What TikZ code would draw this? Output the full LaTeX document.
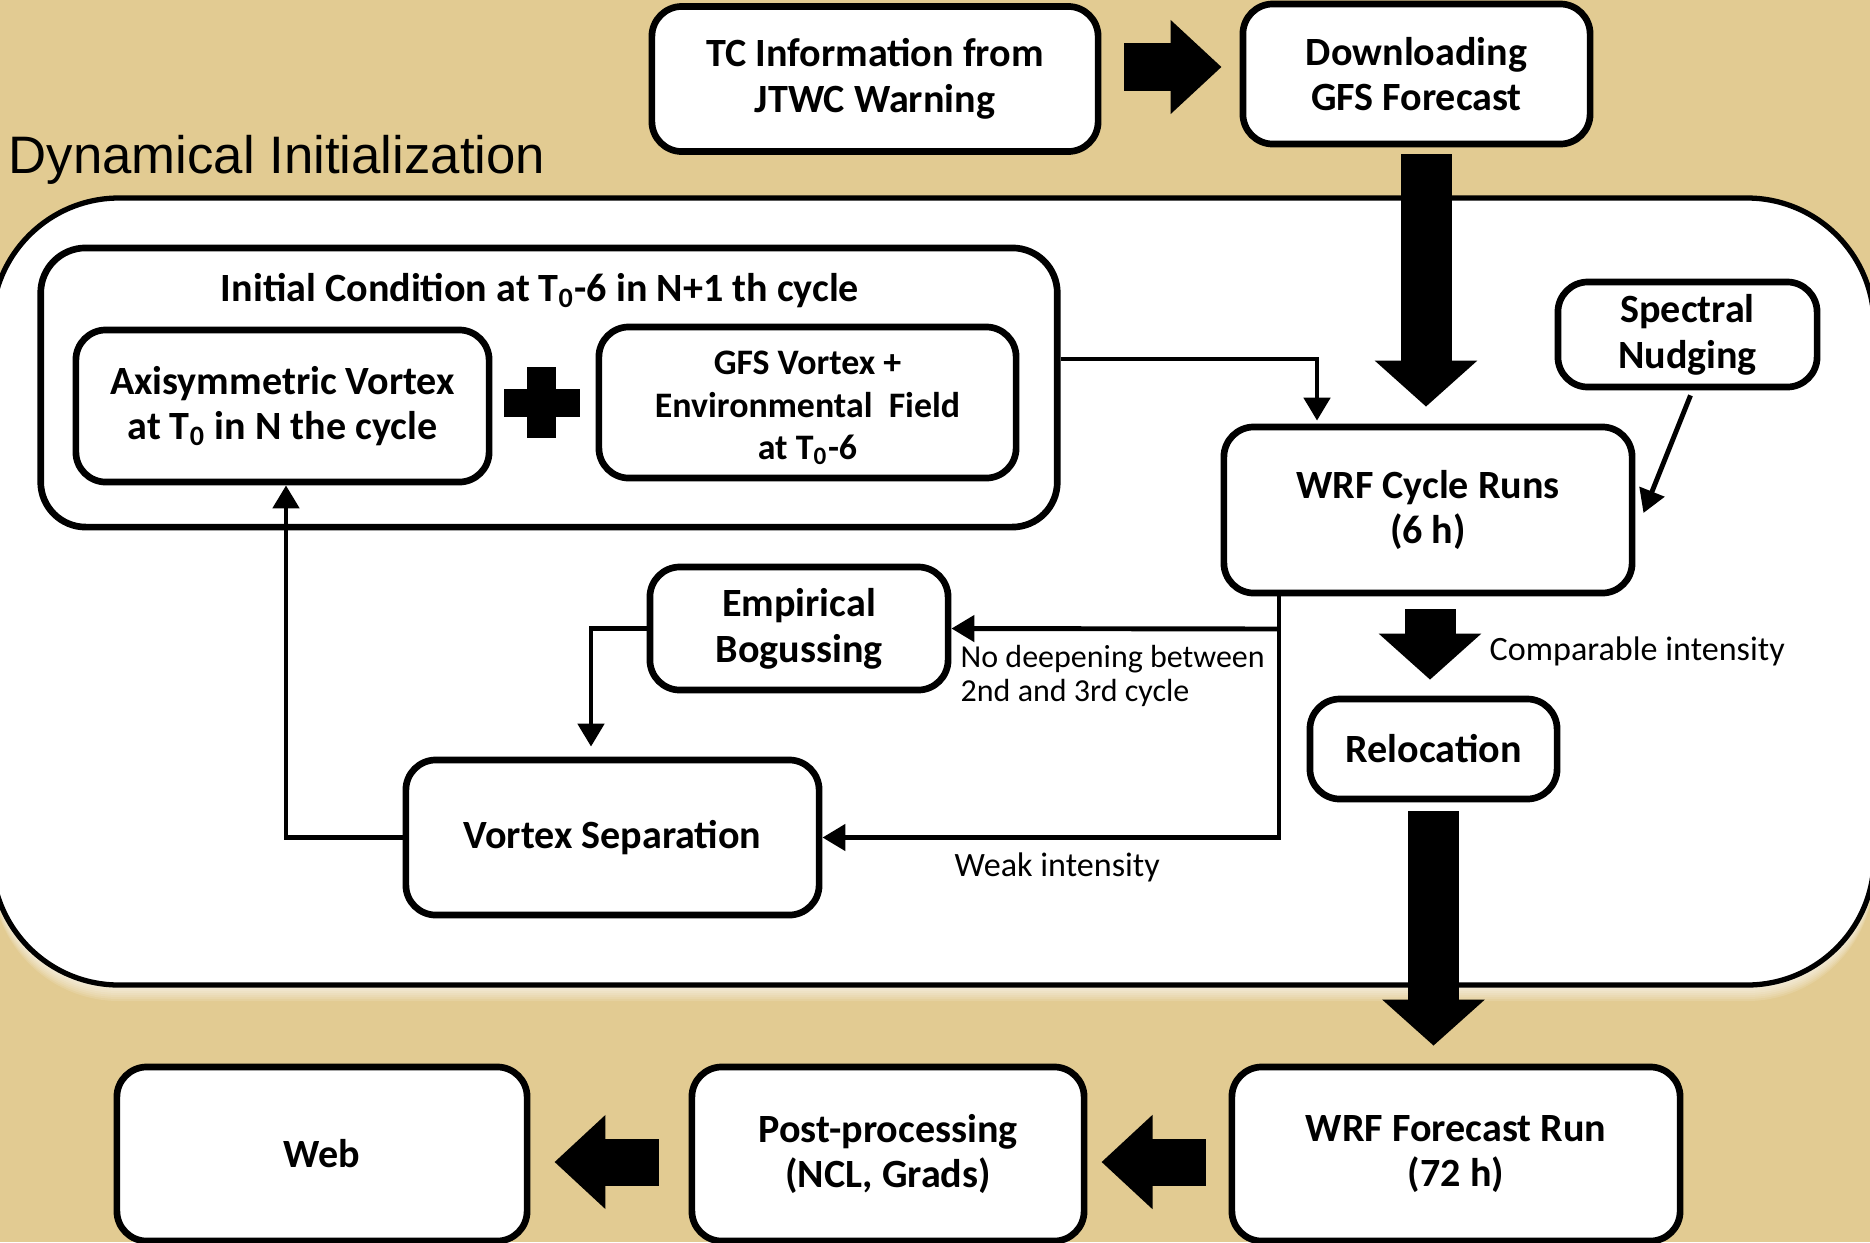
\documentclass[tikz,border=0pt]{standalone}
\usepackage{fontspec}
\setmainfont{Carlito}
\newfontfamily\ttlfont{Liberation Sans}
\usetikzlibrary{arrows.meta}
\definecolor{bgtan}{RGB}{226,203,146}
\newcommand\bxfont{\fontsize{11.4}{13}\selectfont\bfseries}
\newcommand\gfsfont{\fontsize{10.2}{12.1}\selectfont\bfseries}
\newcommand\lblfont{\fontsize{9.7}{9.4}\selectfont}
\tikzset{
  box/.style={draw=black, line width=1.9pt, fill=white, rounded corners=0.3cm,
    align=center, inner sep=0pt, font=\bxfont},
  thinarrow/.style={draw=black, line width=1.4pt, -{Triangle[length=0.23cm, width=0.26cm]}},
  vblock/.style={line width=0.51cm, line cap=butt, -{Triangle[length=0.46cm, width=1.0cm]}},
  hblock/.style={line width=0.47cm, line cap=butt, -{Triangle[length=0.51cm, width=0.91cm]}},
  lbl/.style={inner sep=0pt, font=\lblfont, align=left},
}
\begin{document}
\begin{tikzpicture}[x=0.01cm, y=-0.01cm]
\useasboundingbox (0,0) rectangle (1870,1242);
\clip (0,0) rectangle (1870,1242);
\fill[bgtan] (0,0) rectangle (1870,1242);
% glow under the dynamical initialization region
\foreach \k in {1,...,8}{
  \fill[white, opacity=0.12, rounded corners=1.27cm] (-8,{198+2*\k}) rectangle (1874,{985+2*\k});
}
\draw[line width=1.5pt, fill=white, rounded corners=1.27cm] (-8,198) rectangle (1874,985);

\node[anchor=base west, inner sep=0pt, font=\ttlfont\fontsize{15}{16}\selectfont] (title) at (8,173) {Dynamical Initialization};

% top boxes
\node[box, minimum width=4.46cm, minimum height=1.45cm] (tc) at (875,79) {TC Information from\\JTWC Warning};
\node[box, minimum width=3.47cm, minimum height=1.40cm] (dl) at (1416.5,74) {Downloading\\GFS Forecast};

% initial condition group
\node[box, rounded corners=0.45cm, minimum width=10.16cm, minimum height=2.79cm] (ic) at (549,387.5) {};
\node[inner sep=0pt, font=\bxfont] (ict) at (540,291) {Initial Condition at T\textsubscript{0}-6 in N+1 th cycle};
\node[box, minimum width=4.13cm, minimum height=1.52cm] (ax) at (282.5,406) {Axisymmetric Vortex\\at T\textsubscript{0} in N the cycle};
\node[box, font=\gfsfont, minimum width=4.17cm, minimum height=1.51cm] (gfs) at (807.5,402.5) {\rule{0pt}{9.8pt}GFS Vortex +\\Environmental\ \ Field\\at T\textsubscript{0}-6};
\fill (527,367) rectangle (556,438);
\fill (504,389) rectangle (580,417);

% right side
\node[box, minimum width=2.59cm, minimum height=1.05cm] (sn) at (1687.5,334.5) {Spectral\\Nudging};
\node[box, minimum width=4.08cm, minimum height=1.66cm] (wrf) at (1428,510) {WRF Cycle Runs\\(6 h)};
\node[box, minimum width=2.47cm, minimum height=1.00cm] (rel) at (1433.5,749) {Relocation};

% loop boxes
\node[box, minimum width=2.98cm, minimum height=1.23cm] (eb) at (799,628.5) {Empirical\\Bogussing};
\node[box, minimum width=4.13cm, minimum height=1.55cm] (vs) at (612.5,837.5) {Vortex Separation};

% bottom boxes
\node[box, minimum width=4.48cm, minimum height=1.74cm] (wfr) at (1456,1154) {WRF Forecast Run\\(72 h)};
\node[box, minimum width=3.92cm, minimum height=1.74cm] (pp) at (888,1154) {Post-processing\\(NCL, Grads)};
\node[box, minimum width=4.10cm, minimum height=1.74cm] (web) at (322,1154) {Web};

% block arrows
\draw[hblock] ([shift={(23,-12)}]tc.east) -- ([shift={(-18,-7)}]dl.west);
\draw[vblock] ([shift={(9.5,7)}]dl.south) -- ([shift={(-2,-17)}]wrf.north);
\draw[vblock] ([shift={(2,13)}]wrf.south) -- ([shift={(-3.5,-16)}]rel.north);
\draw[vblock] ([shift={(0,9)}]rel.south) -- ([shift={(-22.5,-18)}]wfr.north);
\draw[hblock] ([shift={(-23,8)}]wfr.west) -- ([shift={(14,8)}]pp.east);
\draw[hblock] ([shift={(-30,8)}]pp.west) -- ([shift={(24,8)}]web.east);

% thin connectors
\draw[thinarrow] (ic.east |- 0,359) -| ([shift={(-111,-3)}]wrf.north);
\draw[thinarrow] ([shift={(3,5)}]sn.south) -- ([shift={(8,3)}]wrf.east);
\coordinate (split) at (1279,629);
\draw[thinarrow] (wrf.south -| split) |- (vs.east);
\draw[thinarrow] (split) -- (eb.east);
\draw[thinarrow, shorten >=0.1cm] (eb.west) -| (591,0 |- vs.north);
\draw[thinarrow] (vs.west) -| (286,0 |- ax.south);

% labels
\node[lbl, anchor=west, font=\fontsize{9.1}{9.6}\selectfont] (lnd) at (960,676) {No deepening between\\2nd and 3rd cycle};
\node[lbl, anchor=west] (lci) at (1489,651) {Comparable intensity};
\node[lbl, anchor=west] (lwi) at (954,867) {Weak intensity};
\end{tikzpicture}
\end{document}
